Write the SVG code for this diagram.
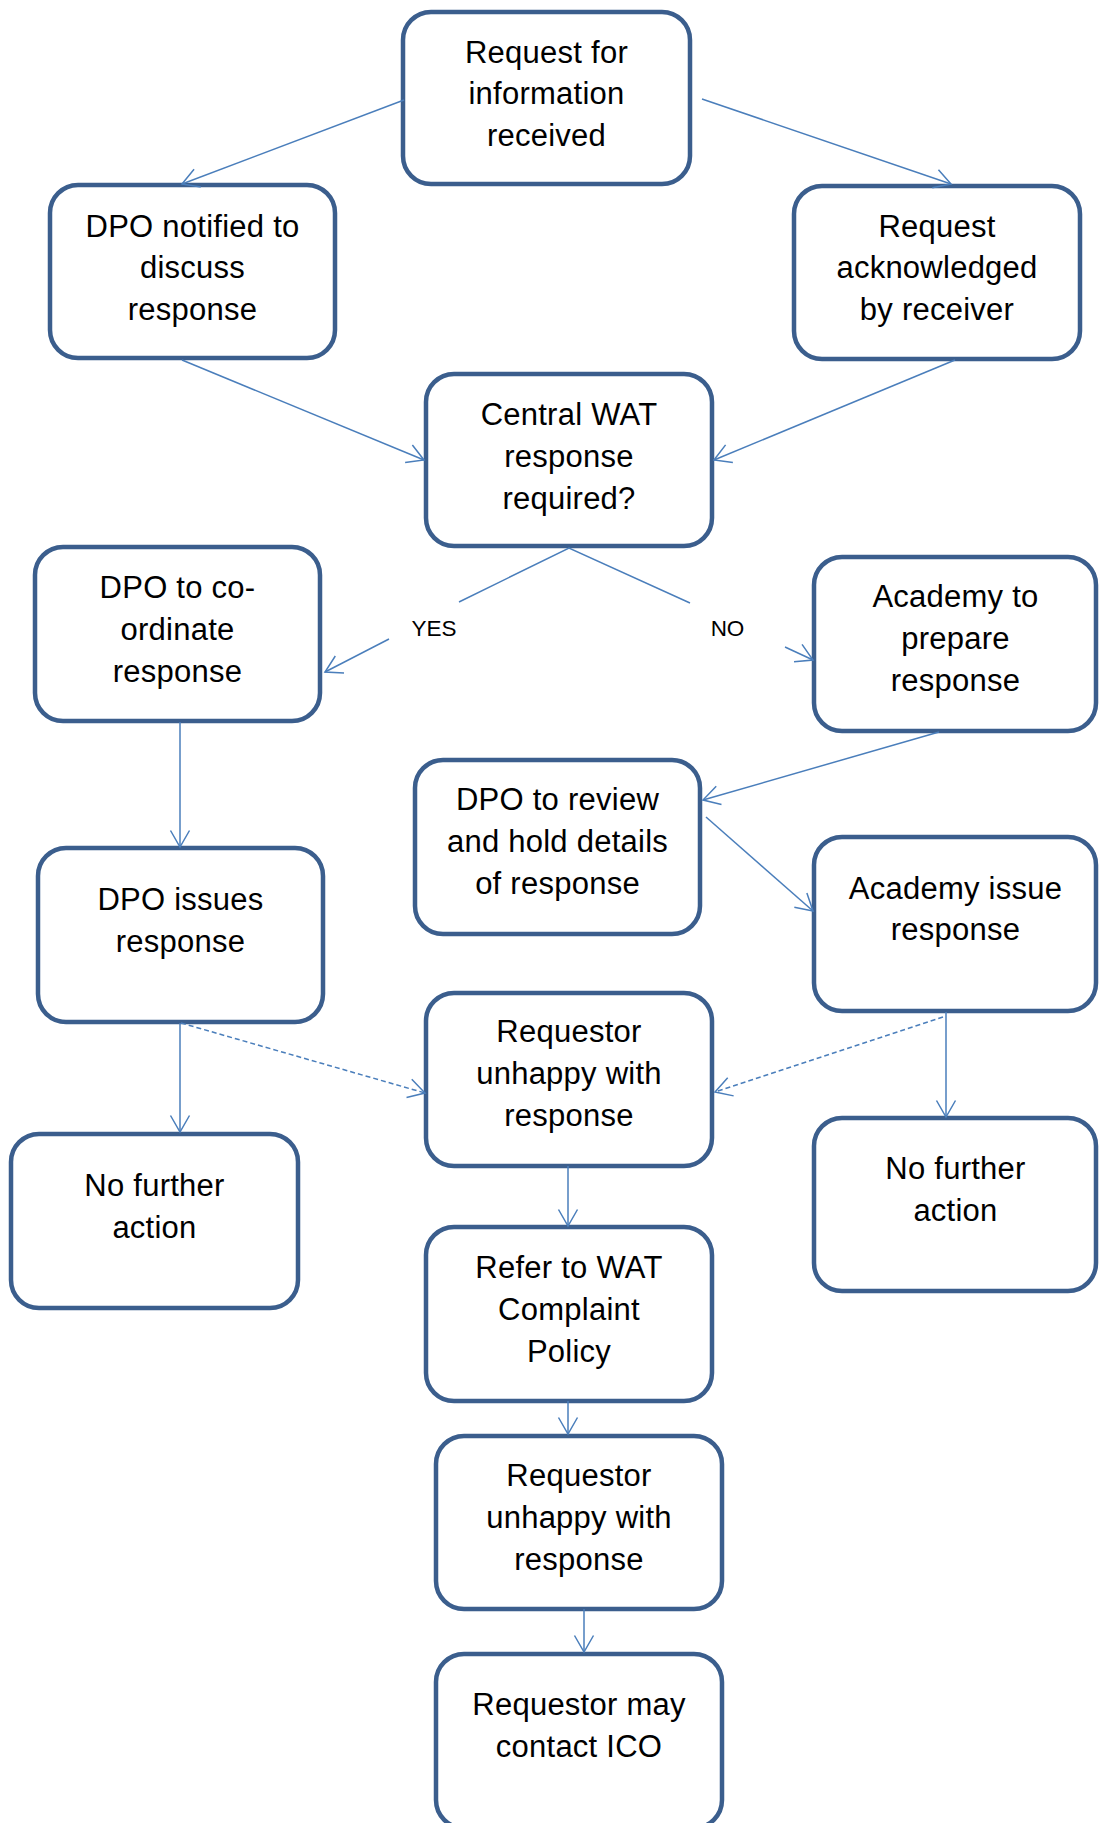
<svg xmlns="http://www.w3.org/2000/svg" width="1099" height="1823" viewBox="0 0 1099 1823">
<style>
.box{fill:#fff;stroke:#3B5E8D;stroke-width:4.5}
.t{font-family:"Liberation Sans",Arial,sans-serif;font-size:31px;fill:#000;text-anchor:middle;letter-spacing:0.25px}
.lbl{font-family:"Liberation Sans",Arial,sans-serif;font-size:22.5px;fill:#000;text-anchor:middle}
.c{fill:none;stroke:#4A7EBB;stroke-width:1.5}
.d{stroke-dasharray:5,3}
</style>
<defs>
<marker id="ah" markerUnits="userSpaceOnUse" markerWidth="24" markerHeight="24" viewBox="-20 -12 24 24" refX="0" refY="0" orient="auto" overflow="visible">
<path d="M-16.5,-9.5 L0,0 L-16.5,9.5" fill="none" stroke="#4A7EBB" stroke-width="1.5"/>
</marker>
</defs>
<rect width="1099" height="1823" fill="#fff"/>

<g id="n1"><rect class="box" x="403" y="12" width="287" height="172" rx="28"/>
<text class="t" x="546.5" y="62.5">Request for</text><text class="t" x="546.5" y="104">information</text><text class="t" x="546.5" y="145.5">received</text></g>

<g id="n2"><rect class="box" x="50" y="185" width="285" height="173" rx="28"/>
<text class="t" x="192.5" y="236.5">DPO notified to</text><text class="t" x="192.5" y="278">discuss</text><text class="t" x="192.5" y="320">response</text></g>

<g id="n3"><rect class="box" x="794" y="186" width="286" height="173" rx="28"/>
<text class="t" x="937" y="236.5">Request</text><text class="t" x="937" y="278">acknowledged</text><text class="t" x="937" y="320">by receiver</text></g>

<g id="n4"><rect class="box" x="426" y="374" width="286" height="172" rx="28"/>
<text class="t" x="569" y="425">Central WAT</text><text class="t" x="569" y="467">response</text><text class="t" x="569" y="509">required?</text></g>

<g id="n5"><rect class="box" x="35" y="547" width="285" height="174" rx="28"/>
<text class="t" x="177.5" y="597.5">DPO to co-</text><text class="t" x="177.5" y="639.5">ordinate</text><text class="t" x="177.5" y="681.5">response</text></g>

<g id="n6"><rect class="box" x="814" y="557" width="282" height="174" rx="28"/>
<text class="t" x="955.5" y="607">Academy to</text><text class="t" x="955.5" y="649">prepare</text><text class="t" x="955.5" y="691">response</text></g>

<g id="n7"><rect class="box" x="415" y="760" width="285" height="174" rx="28"/>
<text class="t" x="557.5" y="809.5">DPO to review</text><text class="t" x="557.5" y="851.5">and hold details</text><text class="t" x="557.5" y="893.5">of response</text></g>

<g id="n8"><rect class="box" x="38" y="848" width="285" height="174" rx="28"/>
<text class="t" x="180.5" y="910">DPO issues</text><text class="t" x="180.5" y="952">response</text></g>

<g id="n9"><rect class="box" x="814" y="837" width="282" height="174" rx="28"/>
<text class="t" x="955.5" y="898.5">Academy issue</text><text class="t" x="955.5" y="940">response</text></g>

<g id="n10"><rect class="box" x="426" y="993" width="286" height="173" rx="28"/>
<text class="t" x="569" y="1042">Requestor</text><text class="t" x="569" y="1084">unhappy with</text><text class="t" x="569" y="1126">response</text></g>

<g id="n11"><rect class="box" x="11" y="1134" width="287" height="174" rx="28"/>
<text class="t" x="154.5" y="1195.5">No further</text><text class="t" x="154.5" y="1237.5">action</text></g>

<g id="n12"><rect class="box" x="814" y="1118" width="282" height="173" rx="28"/>
<text class="t" x="955.5" y="1178.5">No further</text><text class="t" x="955.5" y="1220.5">action</text></g>

<g id="n13"><rect class="box" x="426" y="1227" width="286" height="174" rx="28"/>
<text class="t" x="569" y="1278">Refer to WAT</text><text class="t" x="569" y="1320">Complaint</text><text class="t" x="569" y="1362">Policy</text></g>

<g id="n14"><rect class="box" x="436" y="1436" width="286" height="173" rx="28"/>
<text class="t" x="579" y="1485.5">Requestor</text><text class="t" x="579" y="1527.5">unhappy with</text><text class="t" x="579" y="1569.5">response</text></g>

<g id="n15"><rect class="box" x="436" y="1654" width="286" height="174" rx="28"/>
<text class="t" x="579" y="1715">Requestor may</text><text class="t" x="579" y="1757">contact ICO</text></g>

<g id="connectors">
<line class="c" x1="404" y1="100" x2="182" y2="184" marker-end="url(#ah)"/>
<line class="c" x1="702" y1="99" x2="951" y2="184" marker-end="url(#ah)"/>
<line class="c" x1="182" y1="360" x2="424" y2="460" marker-end="url(#ah)"/>
<line class="c" x1="955" y1="360" x2="714" y2="460" marker-end="url(#ah)"/>
<polyline class="c" points="459,602 569,548 690,603"/>
<line class="c" x1="389" y1="639" x2="325" y2="672" marker-end="url(#ah)"/>
<line class="c" x1="785" y1="647" x2="813" y2="660" marker-end="url(#ah)"/>
<text class="lbl" x="434" y="636">YES</text>
<text class="lbl" x="727.5" y="636">NO</text>
<line class="c" x1="180" y1="722" x2="180" y2="847" marker-end="url(#ah)"/>
<line class="c" x1="939" y1="732" x2="703" y2="800" marker-end="url(#ah)"/>
<line class="c" x1="706" y1="817" x2="813" y2="911" marker-end="url(#ah)"/>
<line class="c" x1="180" y1="1023" x2="180" y2="1132" marker-end="url(#ah)"/>
<line class="c d" x1="181" y1="1023" x2="425" y2="1093" marker-end="url(#ah)"/>
<line class="c" x1="946" y1="1012" x2="946" y2="1117" marker-end="url(#ah)"/>
<line class="c d" x1="943" y1="1017" x2="715" y2="1092" marker-end="url(#ah)"/>
<line class="c" x1="568" y1="1166" x2="568" y2="1226" marker-end="url(#ah)"/>
<line class="c" x1="568" y1="1401" x2="568" y2="1434" marker-end="url(#ah)"/>
<line class="c" x1="584" y1="1609" x2="584" y2="1652" marker-end="url(#ah)"/>
</g>
</svg>
